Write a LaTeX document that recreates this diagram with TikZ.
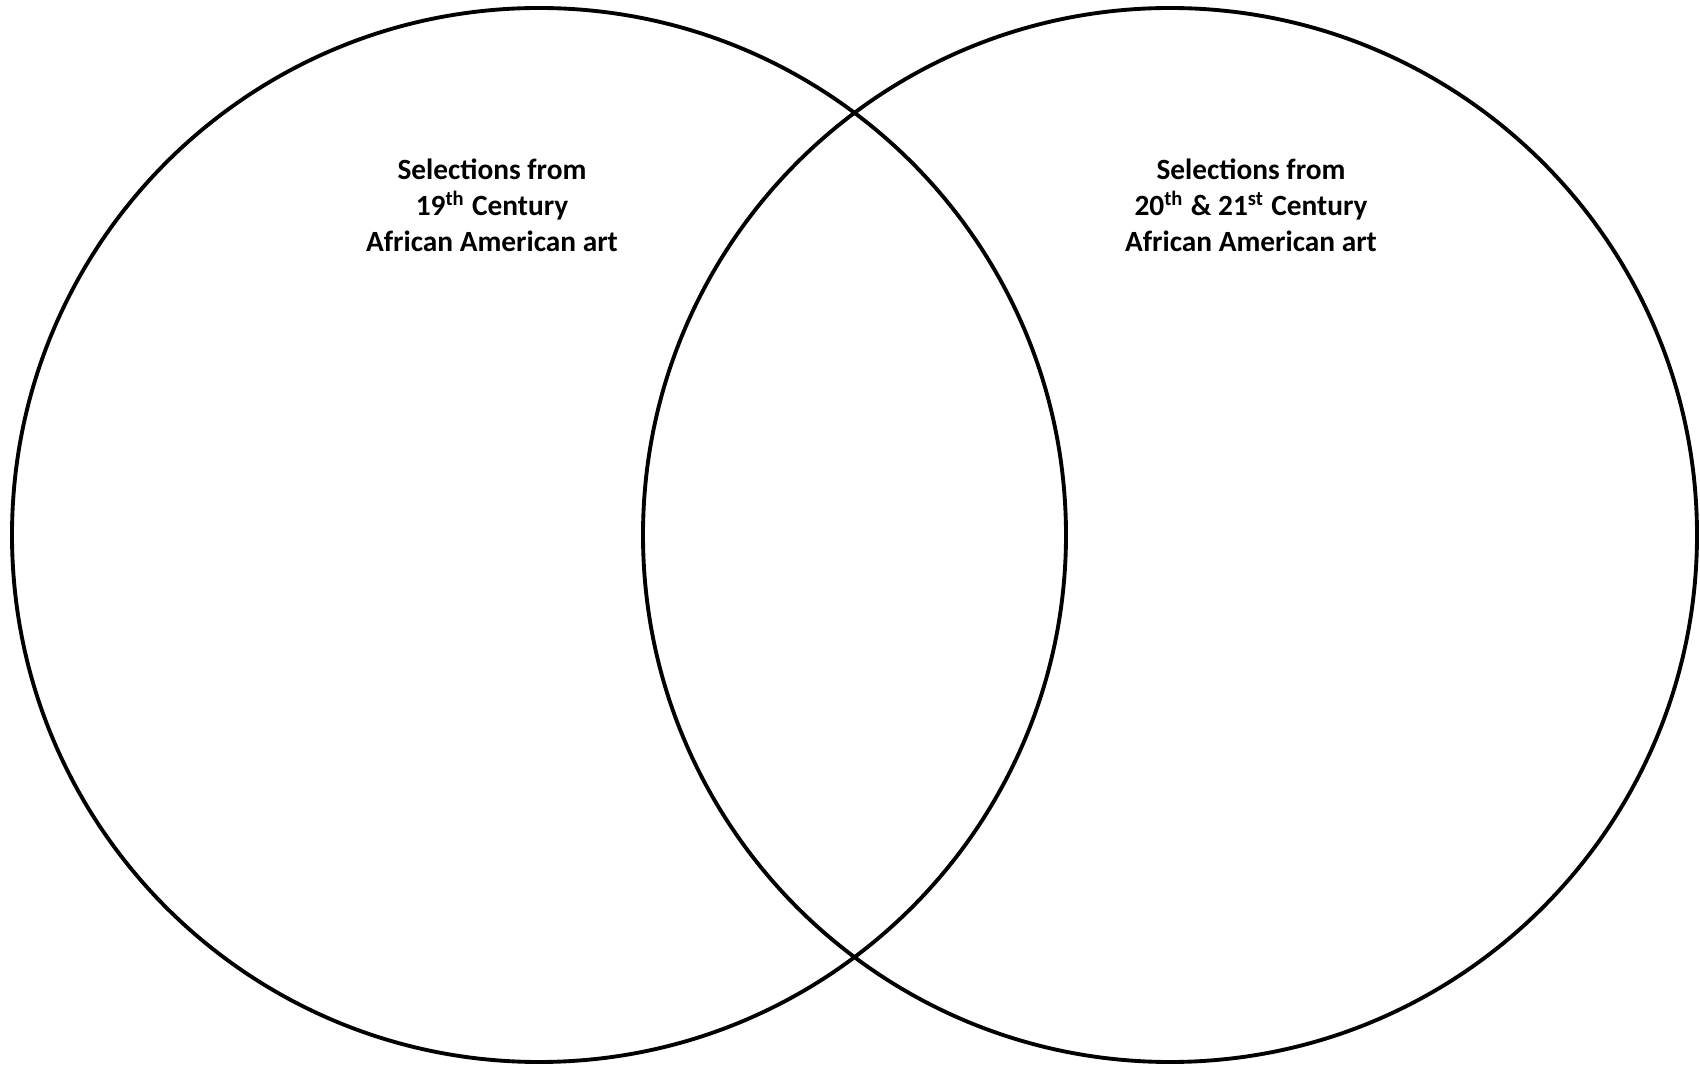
\documentclass[tikz,border=0pt]{standalone}
\usepackage{fontspec}
\setmainfont{Carlito}
\begin{document}
\begin{tikzpicture}[
    set/.style={circle, draw, line width=1.1pt, minimum size=10.54cm, inner sep=0pt},
    title/.style={align=center, font=\fontsize{8.35}{10.2}\selectfont\bfseries}
]

\useasboundingbox (0, 0) rectangle (17, 10.65);

% Circles
\node[set] (nineteenth) at (5.39, 5.30) {};
\node[set] (modern) at (11.70, 5.30) {};

% Labels
\node[title] (nineteenthlabel) at (4.92, 8.60) {Selections from\\19\textsuperscript{th} Century\\African American art};
\node[title] (modernlabel) at (12.51, 8.60) {Selections from\\20\textsuperscript{th} \& 21\textsuperscript{st} Century\\African American art};

\end{tikzpicture}
\end{document}
